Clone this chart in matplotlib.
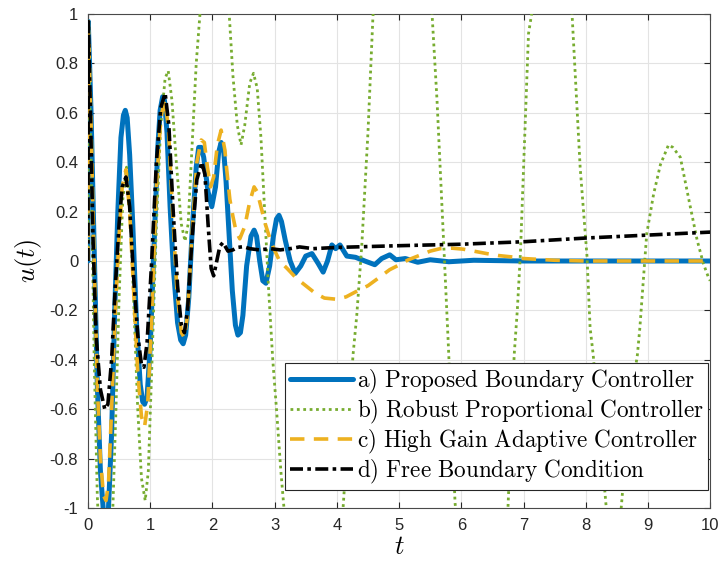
import numpy as np
import matplotlib
matplotlib.use('agg')
import matplotlib.pyplot as plt

# traced curves, (t, u) pairs
t_a = [0.0, 0.005, 0.05, 0.1, 0.15, 0.2, 0.25, 0.29, 0.33, 0.38, 0.43, 0.48, 0.53, 0.57, 0.6,
       0.63, 0.67, 0.72, 0.78, 0.84, 0.88, 0.91, 0.95, 1.0, 1.06, 1.12, 1.16, 1.2, 1.23, 1.27,
       1.32, 1.37, 1.44, 1.49, 1.53, 1.57, 1.62, 1.67, 1.74, 1.78, 1.82, 1.86, 1.93, 1.99,
       2.05, 2.1, 2.14, 2.18, 2.22, 2.27, 2.32, 2.37, 2.41, 2.45, 2.49, 2.55, 2.62, 2.67,
       2.71, 2.76, 2.81, 2.86, 2.92, 2.98, 3.03, 3.07, 3.11, 3.17, 3.25, 3.33, 3.42, 3.5,
       3.6, 3.7, 3.78, 3.85, 3.92, 3.98, 4.05, 4.16, 4.3, 4.45, 4.61, 4.72, 4.85, 4.95, 5.1,
       5.3, 5.5, 5.8, 6.2, 7.0, 10.0]
u_a = [0.0, 0.97, 0.6, 0.05, -0.5, -0.85, -1.02, -1.06, -1.0, -0.7, -0.2, 0.2, 0.5, 0.59, 0.61,
       0.58, 0.43, 0.15, -0.25, -0.5, -0.57, -0.58, -0.55, -0.35, 0.05, 0.45, 0.61, 0.665, 0.65,
       0.52, 0.22, -0.02, -0.25, -0.32, -0.335, -0.3, -0.15, 0.1, 0.38, 0.46, 0.46, 0.42, 0.28,
       0.22, 0.3, 0.44, 0.48, 0.45, 0.32, 0.1, -0.12, -0.26, -0.3, -0.29, -0.22, -0.02, 0.1,
       0.125, 0.1, 0.0, -0.08, -0.09, -0.02, 0.1, 0.17, 0.185, 0.16, 0.085, 0.0, -0.05, -0.02,
       0.02, 0.03, -0.01, -0.045, 0.0, 0.065, 0.05, 0.065, 0.02, 0.015, 0.0, -0.015, 0.01,
       0.025, 0.005, 0.01, -0.005, 0.005, -0.003, 0.003, 0.0, 0.0]

t_b = [0.0, 0.005, 0.05, 0.1, 0.15, 0.2, 0.28, 0.35, 0.4, 0.45, 0.5, 0.56, 0.62, 0.68,
       0.74, 0.8, 0.86, 0.92, 0.97, 1.03, 1.1, 1.17, 1.24, 1.29, 1.35, 1.42, 1.5, 1.56,
       1.61, 1.67, 1.74, 1.8, 1.9, 2.05, 2.18, 2.27, 2.33, 2.4, 2.46, 2.52, 2.6, 2.66,
       2.72, 2.78, 2.84, 2.9, 2.97, 3.03, 3.1, 3.15, 3.3, 3.6, 3.9, 4.1, 4.26, 4.32, 4.4,
       4.5, 4.58, 4.7, 5.0, 5.3, 5.53, 5.61, 5.71, 5.79, 5.9, 6.1, 6.4, 6.6, 6.75, 6.85,
       6.9, 6.95, 7.08, 7.13, 7.3, 7.5, 7.65, 7.78, 7.91, 8.02, 8.07, 8.12, 8.33, 8.45,
       8.57, 8.7, 8.83, 8.87, 8.98, 9.09, 9.2, 9.33, 9.4, 9.52, 9.68, 9.79, 9.89, 9.97, 10.0]
u_b = [0.0, 0.97, 0.4, -0.4, -0.95, -1.25, -1.35, -1.2, -1.0, -0.6, -0.15, 0.25, 0.38, 0.2,
       -0.2, -0.6, -0.88, -0.97, -0.85, -0.4, 0.15, 0.55, 0.74, 0.77, 0.65, 0.4, 0.15, 0.08,
       0.15, 0.45, 0.8, 1.0, 1.2, 1.25, 1.12, 1.0, 0.75, 0.55, 0.47, 0.55, 0.72, 0.76,
       0.7, 0.5, 0.2, -0.1, -0.4, -0.6, -0.85, -1.0, -1.4, -1.7, -1.4, -1.0, -0.38, -0.22, 0.06,
       0.52, 0.99, 1.4, 1.8, 1.5, 1.0, 0.65, 0.11, -0.33, -0.98, -1.5, -1.7, -1.4, -1.0, -0.38,
       -0.2, 0.03, 0.92, 1.0, 1.3, 1.4, 1.25, 1.0, 0.38, 0.02, -0.27, -0.38, -1.0, -1.06,
       -1.0, -0.6, -0.38, -0.27, 0.11, 0.27, 0.39, 0.47, 0.46, 0.42, 0.22, 0.085, -0.01, -0.065, -0.08]

t_c = [0.0, 0.005, 0.05, 0.1, 0.15, 0.2, 0.25, 0.29, 0.33, 0.38, 0.44, 0.5, 0.55, 0.61,
       0.67, 0.73, 0.8, 0.86, 0.91, 0.96, 1.02, 1.1, 1.17, 1.23, 1.29, 1.36, 1.43, 1.5,
       1.55, 1.6, 1.67, 1.75, 1.82, 1.87, 1.92, 1.97, 2.02, 2.08, 2.14, 2.2, 2.23, 2.28,
       2.33, 2.38, 2.44, 2.52, 2.6, 2.67, 2.72, 2.77, 2.85, 2.95, 3.08, 3.2, 3.35, 3.5,
       3.65, 3.8, 4.0, 4.15, 4.3, 4.5, 4.69, 4.85, 5.0, 5.15, 5.34, 5.5, 5.66, 5.85, 6.03,
       6.2, 6.41, 6.6, 6.83, 7.0, 7.5, 8.0, 10.0]
u_c = [0.0, 0.97, 0.55, 0.0, -0.5, -0.8, -0.95, -0.97, -0.9, -0.6, -0.2, 0.1, 0.3, 0.37,
       0.2, -0.1, -0.45, -0.63, -0.67, -0.58, -0.25, 0.3, 0.58, 0.65, 0.55, 0.2, -0.12, -0.29,
       -0.31, -0.22, 0.1, 0.4, 0.49, 0.48, 0.38, 0.3, 0.34, 0.47, 0.53, 0.45, 0.37, 0.25,
       0.18, 0.12, 0.09, 0.14, 0.24, 0.3, 0.28, 0.23, 0.15, 0.07, 0.0, -0.03, -0.07, -0.1,
       -0.13, -0.15, -0.155, -0.145, -0.125, -0.1, -0.065, -0.035, -0.016, 0.005, 0.024, 0.04, 0.05, 0.052, 0.048,
       0.04, 0.03, 0.022, 0.016, 0.01, 0.003, 0.0, 0.0]

t_d = [0.0, 0.005, 0.04, 0.08, 0.13, 0.2, 0.27, 0.32, 0.38, 0.44, 0.5, 0.55, 0.61, 0.67,
       0.73, 0.8, 0.86, 0.9, 0.95, 1.02, 1.1, 1.17, 1.24, 1.3, 1.37, 1.44, 1.5, 1.55,
       1.6, 1.67, 1.75, 1.83, 1.88, 1.93, 1.98, 2.02, 2.07, 2.12, 2.17, 2.25, 2.33, 2.4,
       2.5, 2.6, 2.75, 2.93, 3.09, 3.25, 3.4, 3.62, 4.0, 5.0, 6.0, 7.0, 8.0, 9.0, 10.0]
u_d = [0.0, 0.97, 0.6, 0.1, -0.3, -0.52, -0.6, -0.58, -0.4, -0.1, 0.15, 0.3, 0.34, 0.22,
       -0.05, -0.3, -0.42, -0.43, -0.33, -0.02, 0.4, 0.62, 0.68, 0.55, 0.2, -0.1, -0.26, -0.29,
       -0.2, 0.08, 0.33, 0.4, 0.35, 0.15, -0.03, -0.06, 0.0, 0.06, 0.075, 0.04, 0.045, 0.055,
       0.058, 0.05, 0.045, 0.05, 0.045, 0.05, 0.057, 0.05, 0.055, 0.062, 0.068, 0.078, 0.093, 0.105, 0.117]

labels = ['a) Proposed Boundary Controller',
          'b) Robust Proportional Controller',
          'c) High Gain Adaptive Controller',
          'd) Free Boundary Condition']

x_ticks = list(range(0, 11))
y_ticks = [-1, -0.8, -0.6, -0.4, -0.2, 0, 0.2, 0.4, 0.6, 0.8, 1]
y_tick_labels = ['-1', '-0.8', '-0.6', '-0.4', '-0.2', '0', '0.2', '0.4', '0.6', '0.8', '1']

plt.rcParams['font.family'] = ['Liberation Sans', 'DejaVu Sans']
plt.rcParams['mathtext.fontset'] = 'cm'
plt.rcParams['axes.unicode_minus'] = False


def tex(s):
    return r'$\mathrm{' + s.replace(' ', r'\ ') + '}$'


fig = plt.figure(figsize=(7.21, 5.63), dpi=100)
ax = fig.add_axes([0.122, 0.0977, 0.863, 0.8774])

ax.plot(t_a, u_a, color='#0072BD', lw=3.6, solid_joinstyle='round',
        solid_capstyle='round', label=tex(labels[0]), zorder=3)
ax.plot(t_b, u_b, color='#77AC30', lw=2.0, linestyle=(0, (1, 1.3)),
        label=tex(labels[1]), zorder=4)
ax.plot(t_c, u_c, color='#EDB120', lw=2.6, linestyle=(0, (4, 2.6)),
        label=tex(labels[2]), zorder=5)
ax.plot(t_d, u_d, color='black', lw=2.6, linestyle=(0, (3.6, 1.2, 1.0, 1.2)),
        label=tex(labels[3]), zorder=6)

ax.set_xlim(0, 10)
ax.set_ylim(-1, 1)
ax.set_xticks(x_ticks)
ax.set_yticks(y_ticks)
ax.set_yticklabels(y_tick_labels)
ax.tick_params(direction='in', length=4.5, width=0.8, top=True, right=True,
               labelsize=12, colors='#262626', pad=7)
ax.grid(True, color='#e3e3e3', lw=0.8)
ax.set_axisbelow(True)
for sp in ax.spines.values():
    sp.set_color('#4a4a4a')
    sp.set_linewidth(0.8)

ax.set_xlabel(r'$t$', fontsize=19, labelpad=2)
ax.set_ylabel(r'$u(t)$', fontsize=19, labelpad=4)

leg = ax.legend(loc='lower right', bbox_to_anchor=(0.997, 0.036), fontsize=16.7,
                fancybox=False, edgecolor='#262626', framealpha=1,
                handlelength=2.75, handletextpad=0.15, labelspacing=0.08,
                borderpad=0.2, borderaxespad=0)
leg.get_frame().set_linewidth(0.8)

fig.savefig('out.png', dpi=100)
